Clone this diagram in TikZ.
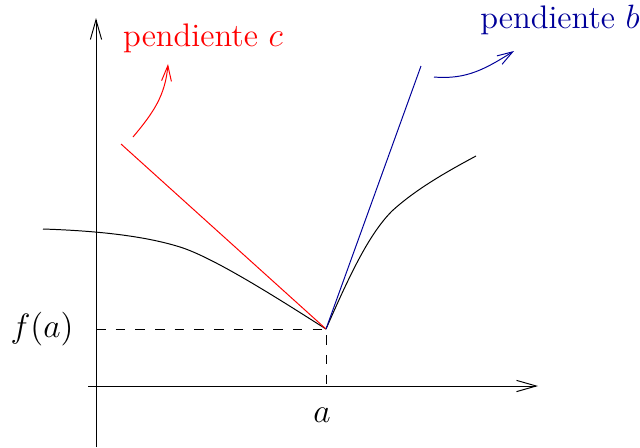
\documentclass[tikz,border=0pt]{standalone}
\usepackage{amsmath,amssymb}
\usepackage{xcolor}
\usepackage{tikz}
\usetikzlibrary{positioning,arrows.meta,calc}
\definecolor{azul}{rgb}{0,0,0.6}
\tikzset{
    eje/.style={-{Straight Barb[length=7pt,width=4pt]}},
    flecha/.style={-{Straight Barb[length=5.5pt,width=3.5pt]}},
    guia/.style={dash pattern=on 3.4pt off 3.6pt},
    etiqueta/.style={inner sep=1pt},
}

\begin{document}
\begin{tikzpicture}[scale=0.5, line width=0.35pt, font=\fontsize{11.6pt}{14pt}\selectfont]
        \useasboundingbox (0,0) rectangle (16,11.175);
        % Ejes
        \coordinate (ybot) at (2.4,0);
        \coordinate (ytop) at (2.4,10.725);
        \coordinate (xleft) at (2.2,1.525);
        \coordinate (xright) at (13.45,1.525);
        \draw[eje] (ybot) -- (ytop);
        \draw[eje] (xleft) -- (xright);

        % Punto (a, f(a))
        \coordinate (P) at (8.15,2.95);
        \coordinate (Py) at (2.4,2.95);
        \coordinate (Px) at (8.15,1.525);
        \draw[guia] (Py) -- (P) -- (Px);
        \node[etiqueta] (fa) at (1.05,2.95) {$f(a)$};
        \node[etiqueta] (a) at (8.05,0.8) {$a$};

        % Curva
        \coordinate (c0) at (1.075,5.45);
        \coordinate (c1) at (11.9,7.275);
        \draw (c0) .. controls (2.6,5.4) and (3.7,5.25) .. (4.5,5.0)
                   .. controls (5.4,4.72) and (7.2,3.55) .. (P);
        \draw (P) .. controls (8.7,4.2) and (9.2,5.3) .. (9.8,5.9)
                  .. controls (10.4,6.45) and (11.2,6.9) .. (c1);

        % Rectas tangentes laterales
        \coordinate (rc) at (3.025,7.575);
        \coordinate (rb) at (10.525,9.525);
        \draw[red] (rc) -- (P);
        \draw[azul] (P) -- (rb);

        % Etiquetas de pendientes
        \node[etiqueta, text=red] (pc) at (5.075,10.225) {pendiente $c$};
        \node[etiqueta, text=azul] (pb) at (14,10.675) {pendiente $b$};
        \coordinate (ac0) at (3.325,7.75);
        \coordinate (ac1) at (4.2,9.575);
        \coordinate (ab0) at (10.85,9.25);
        \coordinate (ab1) at (12.85,9.9);
        \draw[flecha, red] (ac0) to[out=50,in=-95] (ac1);
        \draw[flecha, azul] (ab0) to[out=-5,in=212] (ab1);
\end{tikzpicture}
\end{document}
